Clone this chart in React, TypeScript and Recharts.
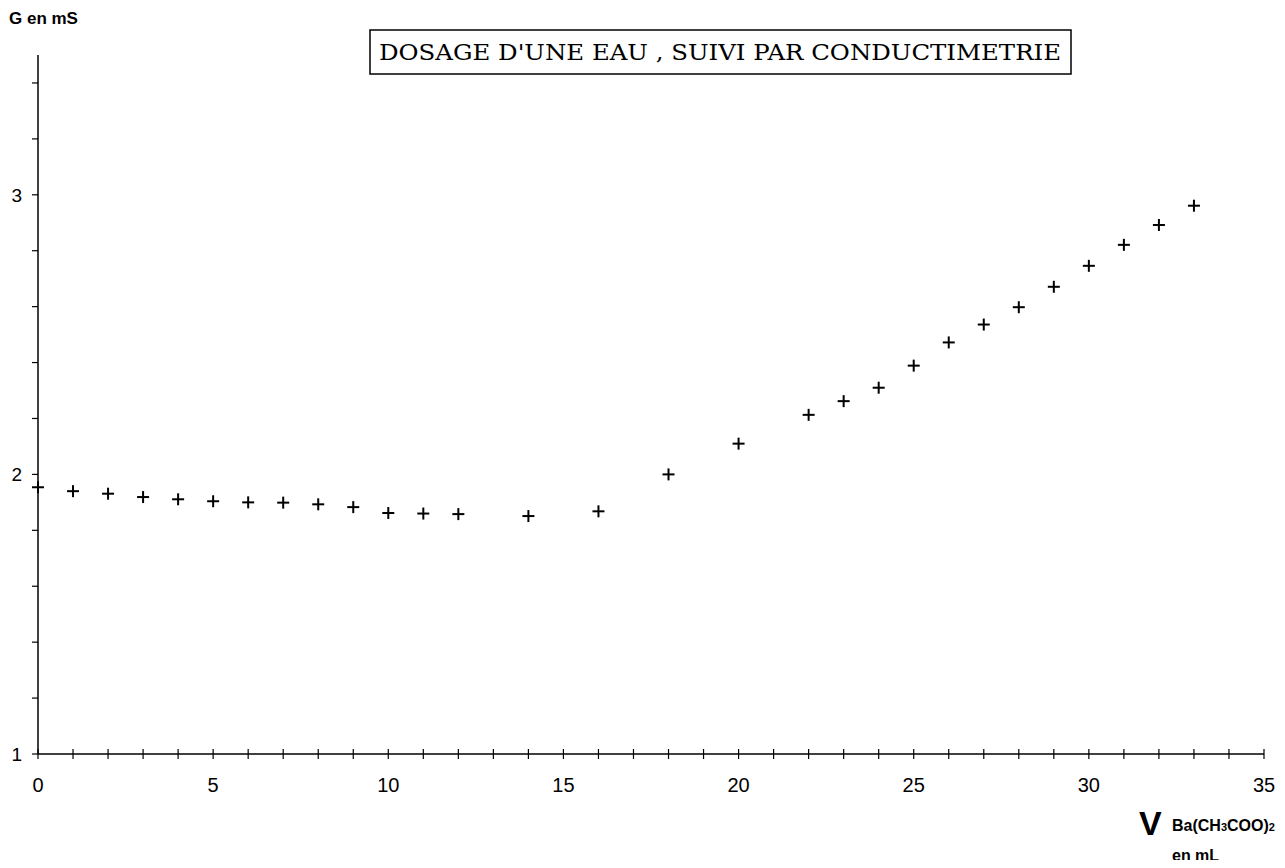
import React from 'react';
import { ScatterChart, Scatter, XAxis, YAxis } from 'recharts';

// volume de Ba(CH3COO)2 versé (mL)
const volumes = [0, 1, 2, 3, 4, 5, 6, 7, 8, 9, 10, 11, 12, 14, 16, 18, 20, 22, 23, 24, 25, 26, 27, 28, 29, 30, 31, 32, 33];
// conductance G (mS)
const conductances = [
  1.954, 1.94, 1.931, 1.919, 1.911, 1.904, 1.9, 1.899, 1.893, 1.883, 1.862, 1.86, 1.858, 1.851, 1.868,
  2.0, 2.11, 2.213, 2.262, 2.31, 2.389, 2.472, 2.536, 2.598, 2.671, 2.746, 2.821, 2.892, 2.961,
];

const xTicks = [0, 1, 2, 3, 4, 5, 6, 7, 8, 9, 10, 11, 12, 13, 14, 15, 16, 17, 18, 19, 20, 21, 22, 23, 24, 25, 26, 27, 28, 29, 30, 31, 32, 33, 34, 35];
const xLabels = [0, 5, 10, 15, 20, 25, 30, 35];
const yTicks = [1, 1.2, 1.4, 1.6, 1.8, 2, 2.2, 2.4, 2.6, 2.8, 3, 3.2, 3.4];
const yLabels = [1, 2, 3];

const data = volumes.map((v, i) => ({ v, g: conductances[i] }));

const sans = '"Liberation Sans", Arial, sans-serif';

const XTick = (props: any) => {
  const { x, y, payload } = props;
  const val = payload.value;
  return (
    <g>
      <line x1={x} x2={x} y1={y - 5} y2={y + 5} stroke="#000" strokeWidth={1.2} />
      {xLabels.includes(val) && (
        <text x={x} y={y + 38} textAnchor="middle" fontFamily={sans} fontSize={20} fill="#000">
          {val}
        </text>
      )}
    </g>
  );
};

const YTick = (props: any) => {
  const { x, y, payload } = props;
  const val = Math.round(payload.value * 10) / 10;
  return (
    <g>
      <line x1={x - 6} x2={x} y1={y} y2={y} stroke="#000" strokeWidth={1.2} />
      {yLabels.includes(val) && (
        <text x={x - 16} y={y + 7} textAnchor="end" fontFamily={sans} fontSize={19} fill="#000">
          {val}
        </text>
      )}
    </g>
  );
};

const Plus = (props: any) => {
  const { cx, cy } = props;
  return (
    <g>
      <line x1={cx - 6} x2={cx + 6} y1={cy} y2={cy} stroke="#000" strokeWidth={2} />
      <line x1={cx} x2={cx} y1={cy - 6} y2={cy + 6} stroke="#000" strokeWidth={2} />
    </g>
  );
};

export default function App() {
  return (
    <div style={{ position: 'relative', width: 1269, height: 852, background: '#fff' }}>
      <ScatterChart width={1269} height={852} margin={{ top: 47, right: 13, left: 0, bottom: 6 }}>
        <XAxis
          type="number"
          dataKey="v"
          domain={[0, 35]}
          ticks={xTicks}
          interval={0}
          tick={<XTick />}
          tickLine={false}
          tickSize={0}
          tickMargin={0}
          height={100}
          axisLine={{ stroke: '#000', strokeWidth: 1.5 }}
        />
        <YAxis
          type="number"
          dataKey="g"
          domain={[1, 3.5]}
          ticks={yTicks}
          interval={0}
          tick={<YTick />}
          tickLine={false}
          tickSize={0}
          tickMargin={0}
          width={30}
          axisLine={{ stroke: '#000', strokeWidth: 1.5 }}
        />
        <Scatter data={data} shape={<Plus />} isAnimationActive={false} />
      </ScatterChart>
      <svg
        width={1285}
        height={868}
        style={{ position: 'absolute', left: -8, top: -8, pointerEvents: 'none' }}
      >
        <text x={9} y={24} fontFamily={sans} fontWeight="bold" fontSize={17} fill="#000">
          G en mS
        </text>
        <rect x={370} y={30} width={701} height={44} fill="none" stroke="#000" strokeWidth={1.5} />
        <text
          x={379}
          y={60}
          fontFamily='"DejaVu Serif", "Liberation Serif", serif'
          fontSize={22}
          textLength={682}
          lengthAdjust="spacingAndGlyphs"
          fill="#000"
        >
          DOSAGE D'UNE EAU , SUIVI PAR CONDUCTIMETRIE
        </text>
        <text x={1139} y={835} fontFamily={sans} fontWeight="bold" fontSize={34} fill="#000">
          V
        </text>
        <text x={1172} y={831} fontFamily={sans} fontWeight="bold" fontSize={16} fill="#000">
          Ba(CH<tspan fontSize={11}>3</tspan>COO)<tspan fontSize={11}>2</tspan>
        </text>
        <text x={1172} y={861} fontFamily={sans} fontWeight="bold" fontSize={16} fill="#000">
          en mL
        </text>
      </svg>
    </div>
  );
}
